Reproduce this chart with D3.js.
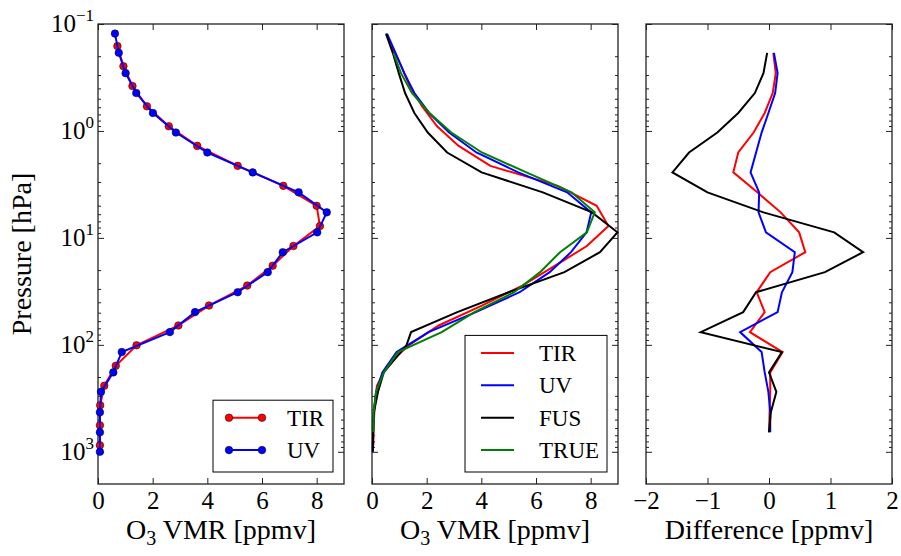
<!DOCTYPE html>
<html>
<head>
<meta charset="utf-8">
<script src="https://cdn.jsdelivr.net/npm/d3@7"></script>
<style>
  body { margin: 0; background: #fff; }
  svg { display: block; }
  svg text { font-family: 'Liberation Serif', 'DejaVu Serif', serif; }
</style>
</head>
<body>
<svg id="chart" width="901" height="556"></svg>
<script>
// pressure grids [hPa], top to bottom
const pUV = [0.123, 0.186, 0.288, 0.442, 0.679, 1.035, 1.59, 2.44, 3.75, 5.77, 8.87,
  13.6, 20.9, 32.2, 49.4, 76.0, 116.8, 180.9, 275, 427, 656, 1000]
const pTIR = [0.161, 0.248, 0.380, 0.588, 0.904, 1.38, 2.12, 3.26, 5.01, 7.74, 11.9,
  18.2, 27.9, 42.9, 65.9, 101, 157, 241, 367, 565, 868]
const pFUS = [0.123, 0.186, 0.288, 0.442, 0.679, 1.035, 1.59, 2.44, 3.75, 5.77, 8.87,
  13.6, 20.9, 32.2, 49.4, 76.0, 101, 180.9, 275, 427, 656, 1000]
const pTRUE = [0.186, 0.288, 0.442, 0.679, 1.035, 1.59, 2.44, 3.75, 5.77, 8.87,
  13.6, 20.9, 32.2, 49.4, 76.0, 116.8, 180.9, 275, 427, 656]
const pDiff = pTRUE

// left panel: retrieved profiles with markers [ppmv]
const leftTIR = [0.71, 0.93, 1.26, 1.79, 2.59, 3.63, 5.11, 6.78, 8.00, 8.12, 7.15,
  6.39, 5.46, 4.06, 2.94, 1.41, 0.65, 0.23, 0.08, 0.07, 0.07]
const leftUV = [0.62, 0.76, 1.01, 1.40, 2.01, 2.85, 4.00, 5.66, 7.34, 8.37, 8.02,
  6.76, 6.21, 5.11, 3.55, 2.63, 0.87, 0.56, 0.11, 0.07, 0.07, 0.07]

// middle panel [ppmv]
const midTIR = [0.72, 1.07, 1.38, 1.83, 2.38, 3.17, 4.33, 6.80, 8.22, 8.65, 7.86,
  6.70, 5.50, 4.02, 2.44, 1.34, 0.55, 0.18, 0.10, 0.06, 0.05]
const midUV = [0.55, 0.86, 1.18, 1.55, 2.09, 2.82, 3.82, 5.35, 7.14, 8.02, 7.85,
  7.28, 6.50, 5.40, 3.80, 2.07, 0.90, 0.38, 0.15, 0.06, 0.04, 0.03]
const midFUS = [0.51, 0.76, 0.98, 1.21, 1.55, 2.04, 2.75, 4.01, 6.25, 8.05, 8.98,
  8.34, 7.04, 5.00, 3.12, 1.43, 1.26, 0.43, 0.22, 0.07, 0.04, 0.03]
const midTRUE = [0.78, 1.06, 1.46, 2.10, 2.90, 4.02, 5.65, 7.30, 8.15, 7.86,
  6.88, 6.15, 5.20, 3.75, 2.55, 0.95, 0.43, 0.15, 0.06, 0.05]

// right panel: differences [ppmv]
const diffTIR = [0.07, 0.11, 0.06, -0.07, -0.25, -0.50, -0.58, -0.19, 0.19, 0.49,
  0.59, 0.02, -0.20, -0.07, -0.31, 0.22, 0.02, 0.02, 0.01, 0.00]
const diffUV = [0.08, 0.14, 0.10, -0.01, -0.12, -0.21, -0.30, -0.16, -0.17, -0.05,
  0.42, 0.38, 0.21, 0.14, -0.47, -0.12, -0.07, -0.01, 0.02, 0.02]
const diffFUS = [-0.03, -0.09, -0.23, -0.50, -0.84, -1.30, -1.57, -1.00, -0.09, 1.06,
  1.53, 0.91, -0.21, -0.42, -1.11, 0.21, 0.00, 0.12, 0.03, 0.00]

const vmrTicks = [0, 2, 4, 6, 8]
const diffTicks = [-2, -1, 0, 1, 2]
const pMajor = [0.1, 1, 10, 100, 1000]
const pExp = ['−1', '0', '1', '2', '3']

const serif = "'Liberation Serif', 'DejaVu Serif', serif"
const svg = d3.select('#chart')
const plotTop = 24
const plotBottom = 484
const panelW = 246
const panelX = [98, 372, 646]
const frameColor = '#222'

const y = d3.scaleLog().domain([0.1, 2000]).range([plotTop, plotBottom])
const pMinor = []
pMajor.forEach(p => {
  for (let k = 2; k <= 9; k++) if (p * k < 2000) pMinor.push(p * k)
})

const zip = (ps, vs) => vs.map((v, i) => ({ p: ps[i], v }))

const drawPanel = (x0, domain, ticks) => {
  const x = d3.scaleLinear().domain(domain).range([x0, x0 + panelW])
  const g = svg.append('g')

  const axes = [
    [d3.axisBottom(x).tickValues(ticks).tickSizeInner(-6).tickSizeOuter(0).tickPadding(7)
      .tickFormat(d => (d < 0 ? '−' + -d : d)), `translate(0,${plotBottom})`],
    [d3.axisTop(x).tickValues(ticks).tickSizeInner(-6).tickSizeOuter(0).tickFormat(''), `translate(0,${plotTop})`],
    [d3.axisLeft(y).tickValues(pMajor).tickSizeInner(-6).tickSizeOuter(0).tickFormat(''), `translate(${x0},0)`],
    [d3.axisLeft(y).tickValues(pMinor).tickSizeInner(-3).tickSizeOuter(0).tickFormat(''), `translate(${x0},0)`],
    [d3.axisRight(y).tickValues(pMajor).tickSizeInner(-6).tickSizeOuter(0).tickFormat(''), `translate(${x0 + panelW},0)`],
    [d3.axisRight(y).tickValues(pMinor).tickSizeInner(-3).tickSizeOuter(0).tickFormat(''), `translate(${x0 + panelW},0)`],
  ]
  axes.forEach(([ax, tr]) => {
    const a = g.append('g').attr('transform', tr).call(ax)
      .attr('font-family', serif).attr('font-size', 25)
    a.select('.domain').remove()
    a.selectAll('line').attr('stroke', frameColor).attr('stroke-width', 1)
    a.selectAll('text').attr('fill', '#000')
  })

  g.append('rect')
    .attr('x', x0).attr('y', plotTop)
    .attr('width', panelW).attr('height', plotBottom - plotTop)
    .attr('fill', 'none').attr('stroke', frameColor).attr('stroke-width', 1.3)

  return { x, g }
}

const addLine = (panel, data, color, width = 2) => {
  const line = d3.line().x(d => panel.x(d.v)).y(d => y(d.p))
  panel.g.append('path')
    .datum(data)
    .attr('d', line)
    .attr('fill', 'none')
    .attr('stroke', color)
    .attr('stroke-width', width)
    .attr('stroke-linejoin', 'miter')
}

const addDots = (panel, data, color) => {
  panel.g.selectAll(null)
    .data(data)
    .enter()
    .append('circle')
    .attr('cx', d => panel.x(d.v))
    .attr('cy', d => y(d.p))
    .attr('r', 3.8)
    .attr('fill', color)
    .attr('stroke', '#000')
    .attr('stroke-width', 0.5)
}

const legend = (panel, items, dots) => {
  const right = panel.x.range()[1] - 11
  const h = items.length * 32.4 + 7
  const w = dots ? 120 : 142
  const lg = panel.g.append('g').attr('transform', `translate(${right - w},${plotBottom - 12 - h})`)
  lg.append('rect').attr('width', w).attr('height', h)
    .attr('fill', '#fff').attr('stroke', '#000').attr('stroke-width', 1)
  items.forEach((it, i) => {
    const cy = 17.5 + i * 32.4
    lg.append('line').attr('x1', 16).attr('x2', 49).attr('y1', cy).attr('y2', cy)
      .attr('stroke', it.color).attr('stroke-width', 2)
    if (dots) {
      ;[16, 49].forEach(cx => lg.append('circle').attr('cx', cx).attr('cy', cy).attr('r', 3.8)
        .attr('fill', it.color).attr('stroke', '#000').attr('stroke-width', 0.5))
    }
    lg.append('text').attr('x', 74).attr('y', cy).attr('dy', '0.34em')
      .attr('font-family', serif).attr('font-size', 23).text(it.name)
  })
}

// left panel
const p1 = drawPanel(panelX[0], [0, 9], vmrTicks)
addLine(p1, zip(pTIR, leftTIR), '#ff0000')
addDots(p1, zip(pTIR, leftTIR), '#ff0000')
addLine(p1, zip(pUV, leftUV), '#0000ff')
addDots(p1, zip(pUV, leftUV), '#0000ff')
legend(p1, [{ name: 'TIR', color: '#ff0000' }, { name: 'UV', color: '#0000ff' }], true)

// middle panel
const p2 = drawPanel(panelX[1], [0, 9], vmrTicks)
addLine(p2, zip(pTIR, midTIR), '#ff0000')
addLine(p2, zip(pUV, midUV), '#0000ff')
addLine(p2, zip(pFUS, midFUS), '#000000')
addLine(p2, zip(pTRUE, midTRUE), '#008000')
legend(p2, [
  { name: 'TIR', color: '#ff0000' },
  { name: 'UV', color: '#0000ff' },
  { name: 'FUS', color: '#000000' },
  { name: 'TRUE', color: '#008000' },
], false)

// right panel
const p3 = drawPanel(panelX[2], [-2, 2], diffTicks)
addLine(p3, zip(pDiff, diffTIR), '#ff0000')
addLine(p3, zip(pDiff, diffUV), '#0000ff')
addLine(p3, zip(pDiff, diffFUS), '#000000')

// y tick labels (left panel only)
const yl = svg.append('g').attr('font-family', serif)
pMajor.forEach((p, i) => {
  const t = yl.append('text').attr('x', 94).attr('y', y(p) + 8).attr('text-anchor', 'end')
    .attr('font-family', serif).attr('font-size', 25)
  t.append('tspan').text('10')
  t.append('tspan').attr('dy', -11).attr('font-size', 17).text(pExp[i])
})

// axis labels
const xLabel = (cx, parts) => {
  const t = svg.append('text').attr('x', cx).attr('y', 539).attr('text-anchor', 'middle')
    .attr('font-family', serif).attr('font-size', 28)
  parts(t)
}
;[0, 1].forEach(i => xLabel(panelX[i] + panelW / 2, t => {
  t.append('tspan').text('O')
  t.append('tspan').attr('dy', 6).attr('font-size', 20).text('3')
  t.append('tspan').attr('dy', -6).text(' VMR [ppmv]')
}))
xLabel(panelX[2] + panelW / 2, t => t.text('Difference [ppmv]'))

svg.append('text')
  .attr('transform', `translate(31,${(plotTop + plotBottom) / 2}) rotate(-90)`)
  .attr('text-anchor', 'middle')
  .attr('font-family', serif)
  .attr('font-size', 28)
  .text('Pressure [hPa]')
</script>
</body>
</html>
